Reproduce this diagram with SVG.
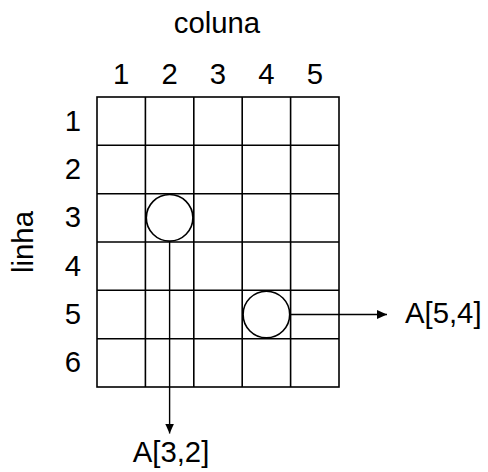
<svg xmlns="http://www.w3.org/2000/svg" width="488" height="472" viewBox="0 0 488 472">
<style>
text{font-family:"Liberation Sans",Arial,sans-serif;font-size:29.3px;fill:#000}
.g{stroke:#000;stroke-width:1.6;fill:none}
.c{stroke:#000;stroke-width:1.6;fill:#fff}
.a{stroke:#000;stroke-width:1.4;fill:none}
.m{text-anchor:middle}
</style>
<defs>
<marker id="ah" markerUnits="userSpaceOnUse" markerWidth="12" markerHeight="10" refX="10" refY="4.5" orient="auto">
<path d="M0,0 L10,4.5 L0,9 Z" fill="#000"/>
</marker>
</defs>
<rect width="488" height="472" fill="#fff"/>
<g id="grid">
<rect class="g" x="97" y="97" width="242" height="290"/>
<path class="g" d="M145.4,97V387M193.8,97V387M242.2,97V387M290.6,97V387M97,145.3H339M97,193.7H339M97,242H339M97,290.3H339M97,338.7H339"/>
</g>
<g id="labels">
<text x="217" y="33" class="m">coluna</text>
<text x="121.2" y="83.5" class="m">1</text>
<text x="169.6" y="83.5" class="m">2</text>
<text x="218" y="83.5" class="m">3</text>
<text x="266.4" y="83.5" class="m">4</text>
<text x="314.8" y="83.5" class="m">5</text>
<text x="73" y="130.5" class="m">1</text>
<text x="73" y="178.8" class="m">2</text>
<text x="73" y="227.2" class="m">3</text>
<text x="73" y="275.5" class="m">4</text>
<text x="73" y="323.8" class="m">5</text>
<text x="73" y="372.2" class="m">6</text>
<text class="m" transform="translate(33,242) rotate(-90)">linha</text>
</g>
<g id="node-a32">
<circle class="c" cx="169.6" cy="217.8" r="23.3"/>
</g>
<g id="node-a54">
<circle class="c" cx="266.4" cy="314.5" r="23.3"/>
</g>
<g id="connectors">
<line class="a" x1="169.6" y1="241.1" x2="169.6" y2="433.5" marker-end="url(#ah)"/>
<line class="a" x1="290.6" y1="314.5" x2="387" y2="314.5" marker-end="url(#ah)"/>
</g>
<g id="label-a32"><text x="171" y="461.5" class="m">A[3,2]</text></g>
<g id="label-a54"><text x="405" y="323.3">A[5,4]</text></g>
</svg>
